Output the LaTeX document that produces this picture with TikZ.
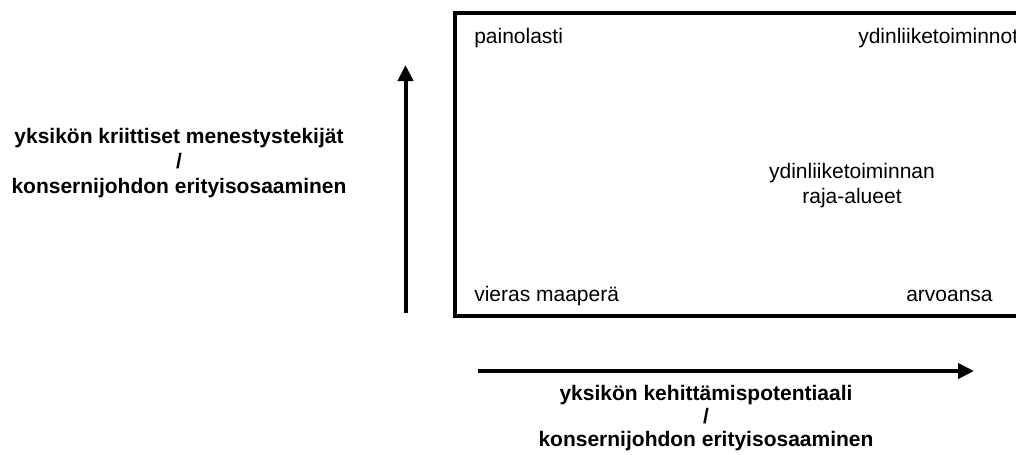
\documentclass[tikz,border=0pt]{standalone}
\usepackage{fontspec}
\setmainfont{Liberation Sans}
\usetikzlibrary{arrows.meta}
\newcommand{\stackc}[1]{\begin{tabular}[t]{@{}c@{}}#1\end{tabular}}
\begin{document}
\begin{tikzpicture}[x=0.75pt,y=-0.75pt,
  lbl/.style={inner sep=0pt, anchor=base west, font=\fontsize{15.75}{18}\selectfont},
  midlbl/.style={inner sep=0pt, anchor=base, font=\fontsize{15.75}{18.75}\selectfont},
  leftlbl/.style={inner sep=0pt, anchor=base, font=\fontsize{15.75}{18.75}\selectfont\bfseries},
  botlbl/.style={inner sep=0pt, anchor=base, font=\fontsize{15.75}{17.4}\selectfont\bfseries},
  axis/.style={line width=3pt, -{Triangle[length=12pt,width=11.25pt]}},
  frame/.style={line width=3pt}]
\useasboundingbox (0,0) rectangle (1016,454);
% portfolio frame (extends past the right edge)
\draw[frame] (455,13) rectangle (1045,316);
% quadrant labels
\node[lbl] (pl) at (474,43) {painolasti};
\node[lbl] (yl) at (858,43) {ydinliiketoiminnot};
\node[lbl] (vm) at (474,301) {vieras maaperä};
\node[lbl] (ar) at (906,301) {arvoansa};
\node[midlbl] (ra) at (852,178) {\stackc{ydinliiketoiminnan\\raja-alueet}};
% axes
\coordinate (vs) at (405.5,313);
\coordinate (ve) at (405.5,65);
\draw[axis] (vs) -- (ve);
\coordinate (hs) at (478,371);
\coordinate (he) at (974,371);
\draw[axis] (hs) -- (he);
% axis labels
\node[leftlbl] (yl2) at (179,143) {\stackc{yksikön kriittiset menestystekijät\\/\\konsernijohdon erityisosaaminen}};
\node[botlbl] (xl) at (706,400) {\stackc{yksikön kehittämispotentiaali\\/\\konsernijohdon erityisosaaminen}};
\end{tikzpicture}
\end{document}
